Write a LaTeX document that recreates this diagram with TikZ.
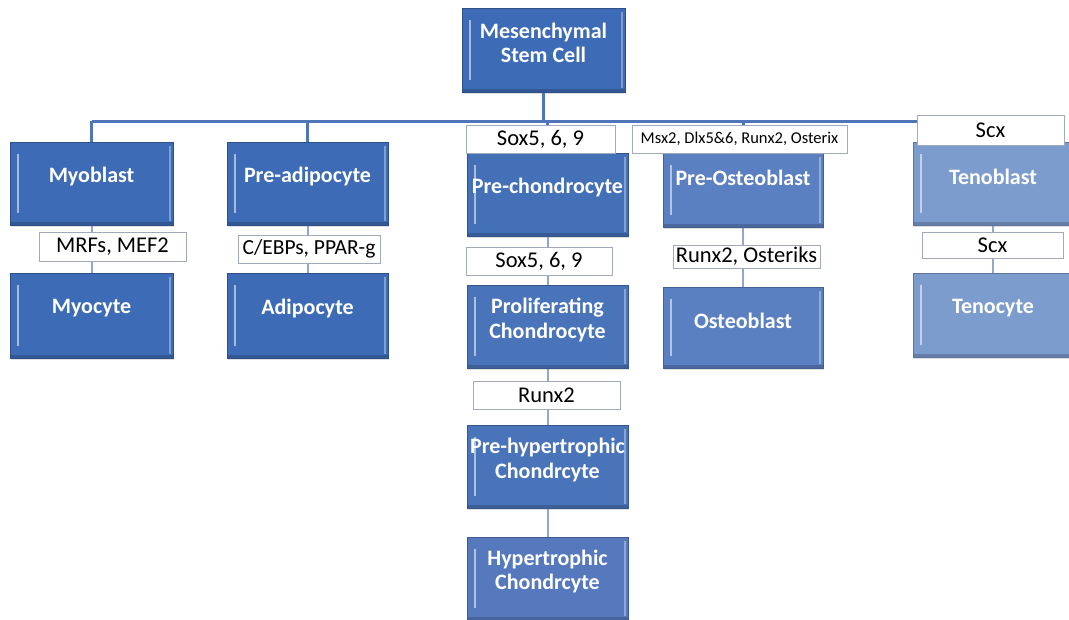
\documentclass[tikz,border=0pt]{standalone}
\usepackage{fontspec}
\setmainfont{Carlito}
\usetikzlibrary{shadows,backgrounds}

\definecolor{barblue}{HTML}{4F75BA}
\definecolor{linkblue}{HTML}{94A6D0}
\definecolor{tagedge}{HTML}{A3A9B8}
\definecolor{cellA}{HTML}{3D6BB5}
\definecolor{cellB}{HTML}{4470B8}
\definecolor{cellC}{HTML}{4A74BA}
\definecolor{cellD}{HTML}{5679BE}
\definecolor{cellE}{HTML}{5B80C2}
\definecolor{cellF}{HTML}{7C9CCD}

\tikzset{
  cellbox/.style={
    draw=#1!75!black, line width=0.8pt, fill=#1,
    minimum width=161pt, minimum height=83pt, inner sep=0pt,
    drop shadow={opacity=0.25, shadow xshift=1pt, shadow yshift=-1.5pt},
    path picture={
      \draw[white, opacity=0.55, line width=1.6pt]
        ([xshift=8pt,yshift=-12pt]path picture bounding box.north west) --
        ([xshift=8pt,yshift=12pt]path picture bounding box.south west);
      \draw[white, opacity=0.35, line width=1.4pt]
        ([xshift=-3pt,yshift=-4pt]path picture bounding box.north east) --
        ([xshift=-3pt,yshift=4pt]path picture bounding box.south east);
      \draw[black, opacity=0.18, line width=3pt]
        ([yshift=1.5pt]path picture bounding box.south west) --
        ([yshift=1.5pt]path picture bounding box.south east);
    }
  },
  celltext/.style={
    inner sep=0pt, text=white, align=center,
    font=\fontsize{22}{24.5}\selectfont\bfseries
  },
  tagbox/.style={
    draw=tagedge, line width=1pt, fill=white,
    minimum height=28pt, inner sep=0pt, text=black,
    font=\fontsize{22.5}{26}\selectfont,
    drop shadow={opacity=0.25, shadow xshift=0.8pt, shadow yshift=-1.2pt}
  },
  trunk/.style={draw=barblue, line width=3pt},
  link/.style={draw=linkblue, line width=2pt}
}

% a cell box with its caption sitting a little above the middle
% #1 name, #2 fill colour, #3 centre, #4 size options, #5 caption lift, #6 caption
\newcommand{\cellnode}[6]{%
  \node[cellbox=#2, #4] (#1) at (#3) {};
  \node[celltext] (#1-txt) at ([yshift=#5]#1.center) {#6};
}

\begin{document}
\begin{tikzpicture}[x=1pt, y=-1pt]
\useasboundingbox (0,0) rectangle (1069,619);

% branch points on the distribution bar
\coordinate (hub)  at (543.5,121);
\coordinate (bmyo) at (91.5,121);
\coordinate (badi) at (307.5,121);
\coordinate (bcho) at (547.5,121);
\coordinate (bost) at (743,121);
\coordinate (bten) at (993,121);

% ---- cells ----
\cellnode{msc}{cellA}{543.5,50}{minimum width=163pt, minimum height=84pt}{7pt}{Mesenchymal\\Stem Cell}

\cellnode{myoblast}{cellA}{91.5,183.5}{minimum width=163pt}{6.5pt}{Myoblast}
\cellnode{myocyte}{cellA}{91.5,315.5}{minimum width=163pt, minimum height=85pt}{7pt}{Myocyte}

\cellnode{preadipo}{cellA}{307.5,183.5}{}{6.5pt}{Pre-adipocyte}
\cellnode{adipo}{cellA}{307.5,315.5}{minimum height=85pt}{7pt}{Adipocyte}

\cellnode{prechondro}{cellB}{547.5,194.5}{}{6.5pt}{Pre-chondrocyte}
\cellnode{prolif}{cellC}{547.5,326.5}{}{6.5pt}{Proliferating\\Chondrocyte}
\cellnode{prehyper}{cellC}{547.5,466.5}{}{6.5pt}{Pre-hypertrophic\\Chondrcyte}
\cellnode{hyper}{cellD}{547.5,578.5}{}{7pt}{Hypertrophic\\Chondrcyte}

\cellnode{preosteo}{cellE}{743,190}{minimum width=160pt, minimum height=74pt}{12pt}{Pre-Osteoblast}
\cellnode{osteo}{cellE}{743,327.5}{minimum width=160pt, minimum height=81pt}{7pt}{Osteoblast}

\cellnode{tenoblast}{cellF}{993,183.5}{minimum width=160pt}{6.5pt}{Tenoblast}
\cellnode{tenocyte}{cellF}{993,315}{minimum width=160pt, minimum height=84pt}{7pt}{Tenocyte}

% ---- transcription-factor tags ----
\node[tagbox, minimum width=149pt] (soxA) at (540.5,139) {Sox5, 6, 9};
\node[tagbox, minimum width=215pt, font=\fontsize{16.5}{19}\selectfont] (msx) at (739.5,139) {Msx2, Dlx5\&6, Runx2, Osterix};
\node[tagbox, minimum width=147pt, minimum height=30pt] (scxA) at (990.5,130) {Scx};
\node[tagbox, minimum width=147pt, minimum height=29pt] (mrf) at (112.5,246.5) {MRFs, MEF2};
\node[tagbox, minimum width=142pt, font=\fontsize{21.5}{25}\selectfont] (cebp) at (309,249) {C/EBPs, PPAR-g};
\node[tagbox, minimum width=146pt] (soxB) at (539,261) {Sox5, 6, 9};
\node[tagbox, minimum width=147pt, minimum height=23pt] (runxost) at (746.5,256.5) {Runx2, Osteriks};
\node[tagbox, minimum width=141pt, minimum height=26pt] (scxB) at (992.5,245) {Scx};
\node[tagbox, minimum width=147pt] (runx) at (546.5,395) {Runx2};

% ---- connectors, kept behind boxes and tags ----
\begin{pgfonlayer}{background}
  \draw[trunk] (msc.south) -- (hub);
  \draw[trunk] (bmyo) -- (bten);
  \draw[trunk] (bmyo) -- (myoblast.north);
  \draw[trunk] (badi) -- (preadipo.north);
  \draw[trunk] (bcho) -- (soxA.north -| bcho);
  \draw[trunk] (bost) -- (msx.north -| bost);
  \draw[trunk] (bten) -- (scxA.north -| bten);
  \draw[link] (myoblast) -- (myocyte);
  \draw[link] (preadipo) -- (adipo);
  \draw[link] (prechondro) -- (prolif);
  \draw[link] (prolif) -- (prehyper);
  \draw[link] (prehyper) -- (hyper);
  \draw[link] (preosteo) -- (osteo);
  \draw[link] (tenoblast) -- (tenocyte);
\end{pgfonlayer}

\end{tikzpicture}
\end{document}
